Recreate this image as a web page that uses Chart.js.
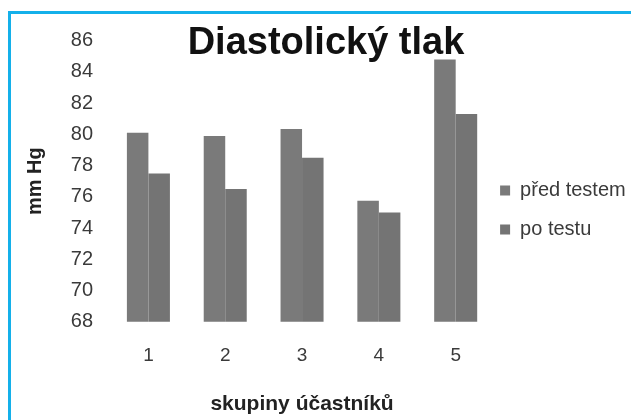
<!DOCTYPE html>
<html>
<head>
<meta charset="utf-8">
<script src="https://cdn.jsdelivr.net/npm/chart.js@4/dist/chart.umd.min.js"></script>
<style>
  html, body { margin: 0; padding: 0; background: #fff; }
  #wrap { position: relative; width: 631px; height: 420px; overflow: hidden; }
  #frame { position: absolute; left: 8px; top: 11px; width: 700px; height: 500px;
           border-left: 3px solid #14b0ea; border-top: 3px solid #14b0ea; }
  #chart { position: absolute; left: 0; top: 0; }
</style>
</head>
<body>
<div id="wrap">
  <div id="frame"></div>
  <canvas id="chart" width="631" height="420"></canvas>
</div>
<script>
// values
const groups = ["1", "2", "3", "4", "5"];
const predTestem = [80.1, 79.9, 80.35, 75.75, 84.8];
const poTestu = [77.5, 76.5, 78.5, 75.0, 81.3];
const yMin = 68, yMax = 86, yStep = 2;

// the legend sits a bit closer to the bars than Chart.js puts it
const nudgeLegend = {
    id: 'nudgeLegend',
    afterLayout(chart) {
        chart.legend.left -= 13;
        chart.legend.right -= 13;
    }
};

let ctx = document.getElementById('chart').getContext('2d');
let chart = new Chart(ctx, {
    type: 'bar',
    data: {
        labels: groups,
        datasets: [{
            label: 'před testem',
            backgroundColor: '#7a7a7a',
            data: predTestem
        }, {
            label: 'po testu',
            backgroundColor: '#747474',
            data: poTestu
        }]
    },
    options: {
        responsive: false,
        animation: false,
        categoryPercentage: 0.56,
        barPercentage: 1.0,
        layout: { padding: { left: 3.3, right: -17.7, top: 0, bottom: 0 } },
        plugins: {
            title: {
                display: true,
                text: 'Diastolický tlak',
                color: '#111',
                font: { family: 'Liberation Sans, Arial, sans-serif', size: 38, weight: 'bold', lineHeight: 1 },
                padding: { top: 25, bottom: -22.3 }
            },
            legend: {
                position: 'right',
                labels: {
                    boxWidth: 10,
                    boxHeight: 10,
                    padding: 19,
                    color: '#3a3a3a',
                    font: { family: 'Liberation Sans, Arial, sans-serif', size: 20 }
                }
            },
            tooltip: { enabled: false }
        },
        scales: {
            x: {
                grid: { display: false },
                border: { display: false },
                ticks: {
                    padding: 15,
                    color: '#3a3a3a',
                    font: { family: 'Liberation Sans, Arial, sans-serif', size: 19 }
                },
                title: {
                    display: true,
                    text: 'skupiny účastníků',
                    color: '#222',
                    font: { family: 'Liberation Sans, Arial, sans-serif', size: 21, weight: 'bold' },
                    padding: { top: 0, bottom: 3 }
                },
                afterFit(scale) { scale.height = 98.3; }
            },
            y: {
                min: yMin,
                max: yMax,
                grid: { display: false },
                border: { display: false },
                ticks: {
                    stepSize: yStep,
                    padding: 9,
                    color: '#3a3a3a',
                    font: { family: 'Liberation Sans, Arial, sans-serif', size: 20 }
                },
                title: {
                    display: true,
                    text: 'mm Hg',
                    color: '#222',
                    font: { family: 'Liberation Sans, Arial, sans-serif', size: 20, weight: 'bold' },
                    padding: { top: 20.2, bottom: 0 }
                },
                afterFit(scale) { scale.width = 106.7; }
            }
        }
    },
    plugins: [nudgeLegend]
});
</script>
</body>
</html>
